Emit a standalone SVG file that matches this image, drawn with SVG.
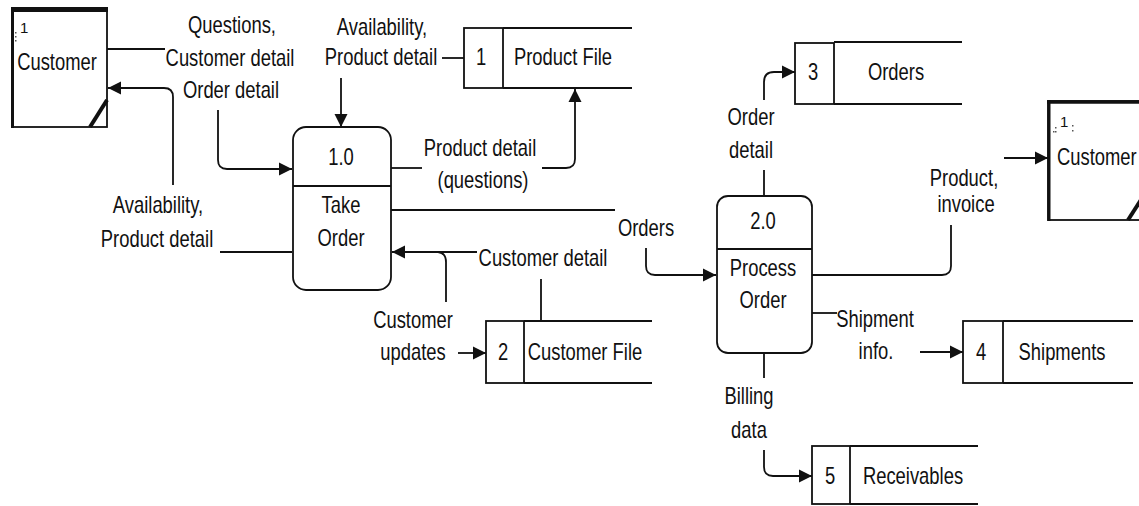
<svg xmlns="http://www.w3.org/2000/svg" width="1139" height="506" viewBox="0 0 1139 506">
<style>
.t{font-family:"Liberation Sans",Arial,sans-serif;font-size:23px;fill:#111;text-anchor:middle}
.s{text-anchor:start}
.sm{font-family:"Liberation Sans",Arial,sans-serif;font-size:15px;fill:#111}
.ln{fill:none;stroke:#111;stroke-width:1.8}
.bx{fill:#fff;stroke:#111;stroke-width:1.8}
.arr{fill:none;stroke:#111;stroke-width:1.8;marker-end:url(#ah)}
</style>
<defs>
<marker id="ah" markerUnits="userSpaceOnUse" markerWidth="14" markerHeight="14" refX="13" refY="7" orient="auto">
<path d="M0,0.5 L13,7 L0,13.5 z" fill="#111"/>
</marker>
</defs>
<rect width="1139" height="506" fill="#fff"/>

<g id="connectors">
<path class="ln" d="M107,49 H165"/>
<path class="arr" d="M218,110 V160 Q218,169 227,169 H292"/>
<path class="ln" d="M220,252 H292"/>
<path class="arr" d="M173,185 V97 Q173,88 164,88 H108"/>
<path class="ln" d="M464,58 H442"/>
<path class="arr" d="M341,78 V127"/>
<path class="ln" d="M391,168 H422"/>
<path class="arr" d="M542,168 H566 Q575,168 575,159 V89"/>
<path class="ln" d="M391,210 H615"/>
<path class="arr" d="M646,248 V266 Q646,275 655,275 H716"/>
<path class="arr" d="M477,252 H392"/>
<path class="ln" d="M446,302 V262 Q446,253 438,252"/>
<path class="ln" d="M541,279 V321"/>
<path class="arr" d="M458,353 H486"/>
<path class="ln" d="M764,196 V170"/>
<path class="arr" d="M764,100 V82 Q764,72 774,72 H795"/>
<path class="ln" d="M812,275 H942 Q951,275 951,266 V225"/>
<path class="arr" d="M1004,158 H1048"/>
<path class="ln" d="M812,313 H837"/>
<path class="arr" d="M920,352 H963"/>
<path class="ln" d="M764,353 V378"/>
<path class="arr" d="M764,450 V467 Q764,476 773,476 H812"/>
</g>

<g id="customer-left">
<rect class="bx" x="12" y="8" width="95" height="119"/>
<line x1="11" y1="9.5" x2="108" y2="9.5" stroke="#111" stroke-width="5"/>
<line x1="12.5" y1="8" x2="12.5" y2="128" stroke="#111" stroke-width="3"/>
<line x1="90" y1="127" x2="107" y2="100" stroke="#111" stroke-width="4"/>
<rect x="15" y="32" width="1.5" height="1.5" fill="#555"/>
<rect x="15" y="36" width="1.5" height="1.5" fill="#555"/>
<rect x="15" y="40" width="1.5" height="1.5" fill="#555"/>
<text class="sm" x="20" y="33">1</text>
<text class="t" transform="translate(57,70) scale(0.8,1)">Customer</text>
</g>

<g id="customer-right">
<rect class="bx" x="1048" y="101" width="100" height="119"/>
<line x1="1047" y1="102" x2="1139" y2="102" stroke="#111" stroke-width="3.5"/>
<line x1="1049" y1="100" x2="1049" y2="221" stroke="#111" stroke-width="3"/>
<line x1="1128" y1="220" x2="1146" y2="192" stroke="#111" stroke-width="4"/>
<rect x="1053" y="131" width="1.5" height="1.5" fill="#555"/>
<rect x="1055" y="127" width="1.5" height="1.5" fill="#555"/>
<rect x="1055" y="131" width="1.5" height="1.5" fill="#555"/>
<rect x="1072" y="125" width="1.5" height="1.5" fill="#555"/>
<rect x="1072" y="130" width="1.5" height="1.5" fill="#555"/>
<text class="sm" x="1060" y="127">1</text>
<text class="t s" transform="translate(1057,165) scale(0.8,1)">Customer</text>
</g>

<g id="process-1">
<rect class="bx" x="293" y="127" width="98" height="163" rx="13" ry="13"/>
<line class="ln" x1="293" y1="186" x2="391" y2="186"/>
<text class="t" transform="translate(341,165) scale(0.8,1)">1.0</text>
<text class="t" transform="translate(341,213) scale(0.8,1)">Take</text>
<text class="t" transform="translate(341,246) scale(0.8,1)">Order</text>
</g>

<g id="process-2">
<rect class="bx" x="717" y="196" width="95" height="157" rx="11" ry="11"/>
<line class="ln" x1="717" y1="249" x2="812" y2="249"/>
<text class="t" transform="translate(763,229) scale(0.8,1)">2.0</text>
<text class="t" transform="translate(763,276) scale(0.8,1)">Process</text>
<text class="t" transform="translate(763,308) scale(0.8,1)">Order</text>
</g>

<g id="store-1">
<rect class="bx" x="464" y="28" width="39" height="60"/>
<path class="ln" d="M503,28 H632 M503,88 H632"/>
<text class="t" transform="translate(481,65) scale(0.8,1)">1</text>
<text class="t" transform="translate(563,65) scale(0.8,1)">Product File</text>
</g>

<g id="store-2">
<rect class="bx" x="486" y="321" width="38" height="62"/>
<path class="ln" d="M524,321 H652 M524,383 H652"/>
<text class="t" transform="translate(503,360) scale(0.8,1)">2</text>
<text class="t" transform="translate(585,360) scale(0.8,1)">Customer File</text>
</g>

<g id="store-3">
<rect class="bx" x="795" y="43" width="39" height="61"/>
<path class="ln" d="M834,42 H962 M834,104 H962"/>
<text class="t" transform="translate(813,80) scale(0.8,1)">3</text>
<text class="t" transform="translate(896,80) scale(0.8,1)">Orders</text>
</g>

<g id="store-4">
<rect class="bx" x="963" y="321" width="40" height="62"/>
<path class="ln" d="M1003,321 H1133 M1003,383 H1133"/>
<text class="t" transform="translate(981,360) scale(0.8,1)">4</text>
<text class="t" transform="translate(1062,360) scale(0.8,1)">Shipments</text>
</g>

<g id="store-5">
<rect class="bx" x="812" y="446" width="38" height="58"/>
<path class="ln" d="M850,446 H978 M850,504 H978"/>
<text class="t" transform="translate(830,484) scale(0.8,1)">5</text>
<text class="t" transform="translate(913,484) scale(0.8,1)">Receivables</text>
</g>

<g id="labels">
<text class="t" transform="translate(232,33) scale(0.8,1)">Questions,</text>
<text class="t" transform="translate(230,66) scale(0.8,1)">Customer detail</text>
<text class="t" transform="translate(231,98) scale(0.8,1)">Order detail</text>
<text class="t" transform="translate(158,213) scale(0.8,1)">Availability,</text>
<text class="t" transform="translate(157,247) scale(0.8,1)">Product detail</text>
<text class="t" transform="translate(382,35) scale(0.8,1)">Availability,</text>
<text class="t" transform="translate(381,65) scale(0.8,1)">Product detail</text>
<text class="t" transform="translate(480,156) scale(0.8,1)">Product detail</text>
<text class="t" transform="translate(483,188) scale(0.8,1)">(questions)</text>
<text class="t" transform="translate(646,236) scale(0.8,1)">Orders</text>
<text class="t" transform="translate(543,266) scale(0.8,1)">Customer detail</text>
<text class="t" transform="translate(413,328) scale(0.8,1)">Customer</text>
<text class="t" transform="translate(413,360) scale(0.8,1)">updates</text>
<text class="t" transform="translate(751,125) scale(0.8,1)">Order</text>
<text class="t" transform="translate(751,158) scale(0.8,1)">detail</text>
<text class="t" transform="translate(964,186) scale(0.8,1)">Product,</text>
<text class="t" transform="translate(966,212) scale(0.8,1)">invoice</text>
<text class="t" transform="translate(875,327) scale(0.8,1)">Shipment</text>
<text class="t" transform="translate(876,359) scale(0.8,1)">info.</text>
<text class="t" transform="translate(749,404) scale(0.8,1)">Billing</text>
<text class="t" transform="translate(749,438) scale(0.8,1)">data</text>
</g>
</svg>
